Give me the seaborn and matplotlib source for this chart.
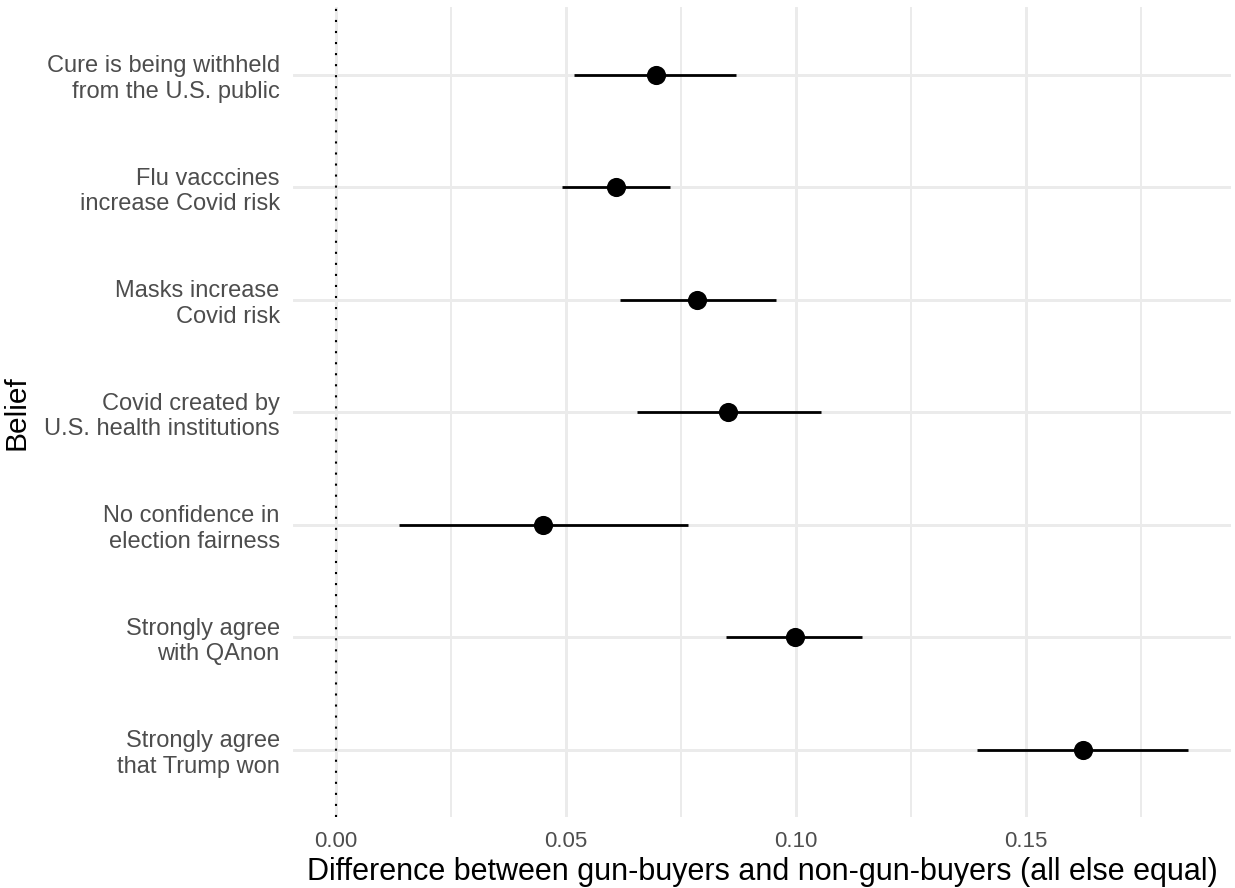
import numpy as np
import pandas as pd
import seaborn as sns
import matplotlib.pyplot as plt
from matplotlib.ticker import MultipleLocator

# Beliefs (top to bottom) and estimated differences with 95% intervals
beliefs = [
    "Cure is being withheld\nfrom the U.S. public",
    "Flu vacccines\nincrease Covid risk",
    "Masks increase\nCovid risk",
    "Covid created by\nU.S. health institutions",
    "No confidence in\nelection fairness",
    "Strongly agree\nwith QAnon",
    "Strongly agree\nthat Trump won",
]
estimate = [0.0696, 0.0609, 0.0786, 0.0853, 0.0451, 0.0997, 0.1623]
conf_low = [0.0517, 0.0491, 0.0617, 0.0654, 0.0137, 0.0849, 0.1393]
conf_high = [0.0870, 0.0726, 0.0956, 0.1054, 0.0765, 0.1144, 0.1852]

df = pd.DataFrame({"belief": beliefs, "estimate": estimate,
                   "low": conf_low, "high": conf_high})

sns.set_theme(style="white")
plt.rcParams["font.family"] = ["Liberation Sans", "DejaVu Sans"]

fig = plt.figure(figsize=(12.35, 8.88), dpi=100)
ax = fig.add_axes([0.2372, 0.0794, 0.7596, 0.9122])

# grid like ggplot theme_minimal
ax.xaxis.set_major_locator(MultipleLocator(0.05))
ax.xaxis.set_minor_locator(MultipleLocator(0.025))
ax.grid(which="major", axis="both", color="#EBEBEB", linewidth=2.1, zorder=0)
ax.grid(which="minor", axis="x", color="#E6E6E6", linewidth=1.1, zorder=0)
ax.set_axisbelow(True)

ax.axvline(0, color="black", linestyle=(0, (1, 4.3)), linewidth=1.5, zorder=1)

# intervals
ax.hlines(y=df["belief"], xmin=df["low"], xmax=df["high"],
          color="black", linewidth=2.0, zorder=2)
sns.scatterplot(data=df, x="estimate", y="belief", ax=ax, color="black",
                s=190, edgecolor="black", linewidth=0, zorder=3)

ax.set_xlim(-0.00926, 0.1945)
ax.set_ylim(len(beliefs) - 0.4, -0.6)
ax.set_xticks([0.0, 0.05, 0.10, 0.15])
ax.set_xticklabels(["0.00", "0.05", "0.10", "0.15"])

for s in ax.spines.values():
    s.set_visible(False)
ax.tick_params(axis="both", which="both", length=0)
ax.tick_params(axis="y", labelsize=17, labelcolor="#4D4D4D", pad=9.5)
ax.tick_params(axis="x", labelsize=16, labelcolor="#4D4D4D", pad=10)
for lab in ax.get_yticklabels():
    lab.set_linespacing(1.2)

ax.set_xlabel("Difference between gun-buyers and non-gun-buyers (all else equal)",
              fontsize=22, color="black", labelpad=3)
ax.set_ylabel("Belief", fontsize=21.5, color="black", labelpad=10)

fig.savefig("out.png", dpi=100)
